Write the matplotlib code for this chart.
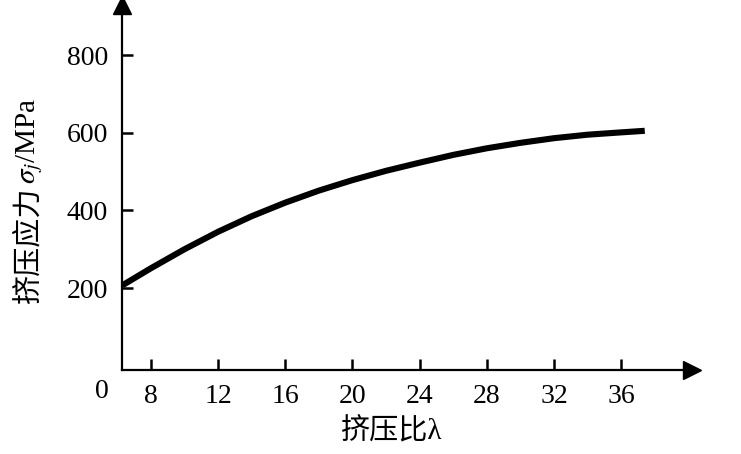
import matplotlib
matplotlib.use("Agg")
import matplotlib.pyplot as plt

plt.rcParams['font.family'] = ['Liberation Serif', 'Noto Sans CJK SC']
plt.rcParams['mathtext.fontset'] = 'stix'

# 挤压比 λ 与挤压应力 σj (MPa)
ratio = [6.3, 8, 10, 12, 14, 16, 18, 20, 22, 24, 26, 28, 30, 32, 34, 36, 37.4]
stress = [207, 251, 300, 345, 385, 420, 451, 478, 502, 523, 543, 560, 574, 586, 595, 601, 605]
xticks = [8, 12, 16, 20, 24, 28, 32, 36]
yticks = [200, 400, 600, 800]

fig = plt.figure(figsize=(7.41, 4.54), dpi=100)
ax = fig.add_axes([0.1646, 0.185, 0.769, 0.804])

ax.plot(ratio, stress, color='black', lw=4.4, solid_capstyle='butt')

ax.set_xlim(6.28, 40.2)
ax.set_ylim(-11, 929)
ax.set_xticks(xticks)
ax.set_yticks(yticks)
ax.tick_params(direction='in', length=8, width=1.8, labelsize=20, pad=10)
ax.tick_params(axis='y', pad=10)

for s in ['top', 'right']:
    ax.spines[s].set_visible(False)
for s in ['left', 'bottom']:
    ax.spines[s].set_linewidth(1.6)

# 坐标轴箭头
ax.plot(1, 0, '>', color='black', ms=13, transform=ax.transAxes, clip_on=False)
ax.plot(0, 1, '^', color='black', ms=13, transform=ax.transAxes, clip_on=False)

ax.text(-0.035, -0.06, '0', transform=ax.transAxes, fontsize=20,
        ha='center', va='center')

ax.set_xlabel('挤压比λ', fontsize=21, va='center')
ax.xaxis.set_label_coords(0.474, -0.17)

# 纵轴标题: 中文部分与 σj/MPa 分开写, 以便字体回退
fig.text(0.038, 0.333, '挤压应力', rotation=90, fontsize=21,
         ha='center', va='bottom', family=['Noto Sans CJK SC'])
fig.text(0.040, 0.785, '$\\sigma_j$/MPa', rotation=90, fontsize=21,
         ha='center', va='top')

fig.savefig('out.png', dpi=100)
